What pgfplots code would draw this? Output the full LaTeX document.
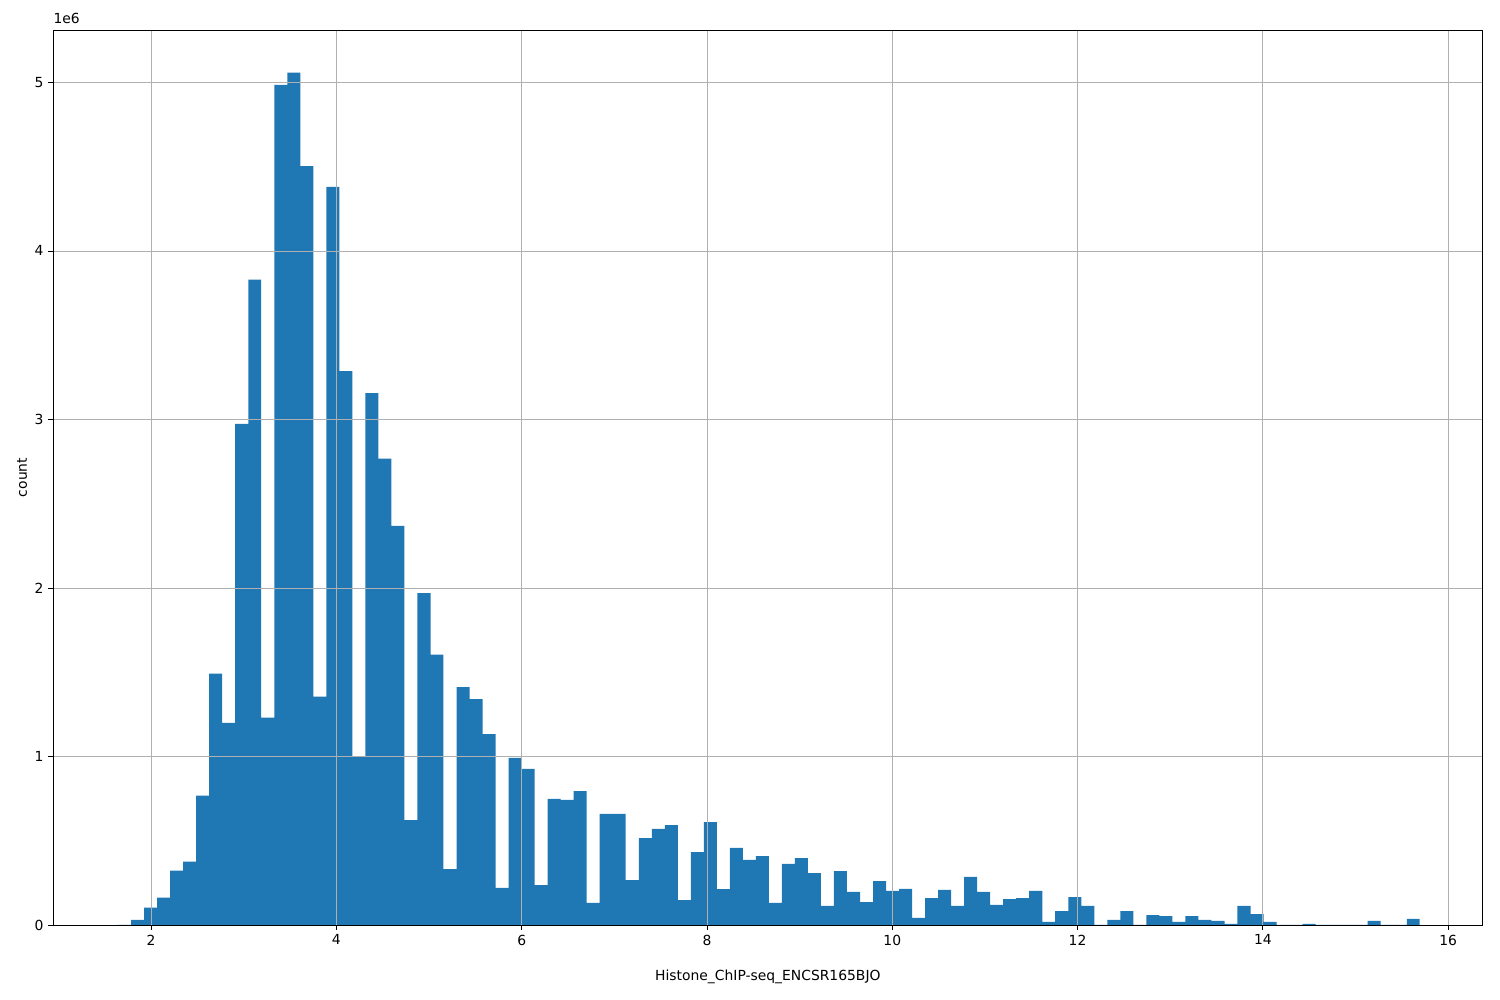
\documentclass[border=0pt]{standalone}
\usepackage{pgfplots}
\pgfplotsset{compat=1.18}
\usepackage{pgfplotstable}
\usepackage{fontspec}
\setmainfont{DejaVu Sans}
\definecolor{mplblue}{HTML}{1F77B4}
\definecolor{gridgray}{HTML}{B0B0B0}
\pgfplotstableread{
edge count
1.644 1000
1.784 30000
1.925 103000
2.065 162000
2.206 322000
2.346 376000
2.487 767000
2.627 1491000
2.768 1200000
2.908 2974000
3.049 3829000
3.189 1230000
3.330 4986000
3.470 5058000
3.611 4503000
3.751 1355000
3.892 4380000
4.032 3287000
4.173 997000
4.313 3156000
4.454 2767000
4.594 2369000
4.735 623000
4.875 1970000
5.016 1604000
5.156 332000
5.297 1412000
5.437 1341000
5.578 1133000
5.718 220000
5.859 992000
5.999 926000
6.140 237000
6.280 748000
6.421 742000
6.561 795000
6.702 131000
6.842 659000
6.983 659000
7.123 267000
7.264 516000
7.404 570000
7.545 593000
7.685 148000
7.826 433000
7.966 611000
8.107 213000
8.247 457000
8.388 386000
8.528 409000
8.669 131000
8.809 362000
8.950 397000
9.090 308000
9.230 113000
9.371 320000
9.511 196000
9.652 136000
9.792 261000
9.933 202000
10.073 214000
10.214 42000
10.354 160000
10.495 208000
10.635 113000
10.776 285000
10.916 196000
11.057 119000
11.197 154000
11.338 160000
11.478 202000
11.619 18000
11.759 83000
11.900 166000
12.040 113000
12.181 0
12.321 30000
12.462 83000
12.602 0
12.743 59000
12.883 53000
13.024 18000
13.164 53000
13.305 30000
13.445 24000
13.586 6000
13.726 113000
13.867 65000
14.007 18000
14.148 0
14.288 0
14.429 6000
14.569 0
14.710 0
14.850 0
14.991 0
15.131 24000
15.272 0
15.412 0
15.553 36000
15.693 36000
}\histdata
\begin{document}
\begin{tikzpicture}
\path[use as bounding box] (0,0) rectangle (1080pt,720pt);
\begin{axis}[
  at={(38.4pt,54pt)}, anchor=south west,
  scale only axis, width=1028.9pt, height=644.4pt,
  xmin=0.945, xmax=16.369, ymin=0, ymax=5.311e6,
  axis on top, clip=false,
  grid=major,
  major grid style={gridgray, line width=0.576pt},
  axis line style={black, line width=0.576pt},
  every tick/.style={black, line width=0.576pt},
  tick align=outside, major tick length=3.5pt,
  xtick pos=bottom, ytick pos=left,
  xtick={2,4,6,8,10,12,14,16},
  ytick={0,1000000,2000000,3000000,4000000,5000000},
  yticklabels={0,1,2,3,4,5},
  scaled y ticks=false,
  /pgf/number format/assume math mode=true,
  ticklabel style={font=\fontsize{10pt}{12pt}\selectfont},
  label style={font=\fontsize{10pt}{12pt}\selectfont},
  xlabel={Histone\_ChIP-seq\_ENCSR165BJO},
  ylabel={count},
  xlabel style={at={(axis description cs:0.5,0)}, anchor=center, yshift=-37.4pt},
  ylabel style={at={(axis description cs:0,0.5)}, anchor=center, yshift=22.5pt},
]
\addplot[ybar interval, fill=mplblue, draw=none] table[x=edge, y=count] {\histdata};
\node[anchor=south west, inner sep=0pt, font=\fontsize{10pt}{12pt}\selectfont] at (rel axis cs:0,1) [yshift=4pt] {1e6};
\end{axis}
\end{tikzpicture}
\end{document}
